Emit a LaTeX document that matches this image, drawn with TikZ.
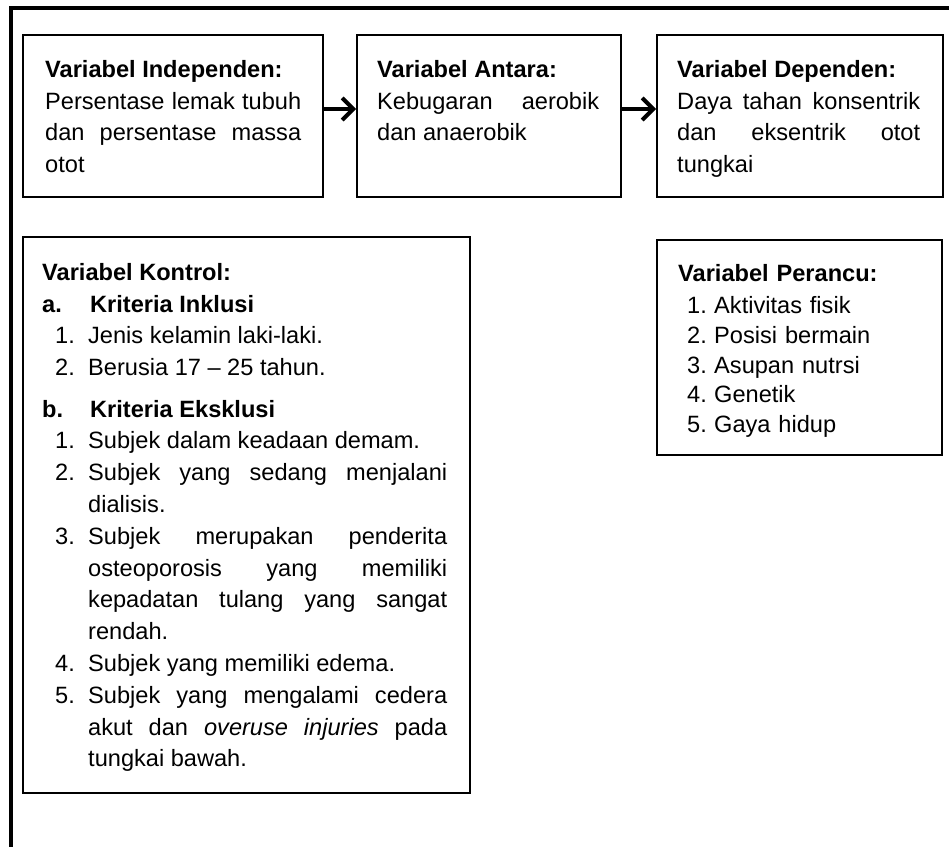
\documentclass[tikz,border=0pt]{standalone}
\usepackage{fontspec}
\setmainfont{Liberation Sans}
\usetikzlibrary{arrows.meta}
\tikzset{
  varbox/.style={
    draw,
    line width=2pt,
    anchor=north west,
    inner sep=0pt
  },
  vartext/.style={
    anchor=north west,
    inner sep=0pt,
    align=justify,
    font=\fontsize{23.6pt}{31.8pt}\selectfont,
    execute at begin node={\hyphenpenalty=10000 \exhyphenpenalty=10000 }
  },
  flow/.style={
    line width=3.5pt,
    -{Straight Barb[length=11pt,width=22pt,line width=4pt]}
  },
  frameline/.style={line width=4pt}
}
\newcommand\kitem[2]{\par\noindent\hangindent=46pt\hangafter=1\makebox[46pt][l]{\hspace{13pt}#1.}#2\par}
\newcommand\pitem[2]{\par\noindent\makebox[36pt][l]{\hspace{9pt}#1.}#2\par}

\begin{document}
\begin{tikzpicture}[x=1pt,y=-1pt]
  \useasboundingbox (0,0) rectangle (949,846);
  \draw[frameline] (11,850) -- (11,8) -- (952,8);

  \node[varbox, minimum width=300pt, minimum height=162pt] (indep) at (22,34) {};
  \node[varbox, minimum width=264pt, minimum height=162pt] (antara) at (356,34) {};
  \node[varbox, minimum width=286pt, minimum height=162pt] (depen) at (656,34) {};
  \node[varbox, minimum width=447pt, minimum height=556pt] (kontrol) at (22,236) {};
  \node[varbox, minimum width=285pt, minimum height=215pt] (perancu) at (656,239) {};

  \node[vartext, text width=256pt] (indeptext) at (45,60) {\textbf{Variabel Independen:}\par
    Persentase lemak tubuh\linebreak dan persentase massa\linebreak otot};
  \node[vartext, text width=222pt] (antaratext) at (377,60) {\textbf{Variabel Antara:}\par
    Kebugaran aerobik\linebreak dan anaerobik};
  \node[vartext, text width=243pt] (depentext) at (677,60) {\textbf{Variabel Dependen:}\par
    Daya tahan konsentrik\linebreak dan eksentrik otot\linebreak tungkai};

  \node[vartext, text width=405pt] (kontroltext) at (42,263) {\textbf{Variabel Kontrol:}\par
    \noindent\textbf{\makebox[48pt][l]{a.}Kriteria Inklusi}
    \kitem{1}{Jenis kelamin laki-laki.}
    \kitem{2}{Berusia 17 – 25 tahun.}
    \vspace{9.5pt}
    \noindent\textbf{\makebox[48pt][l]{b.}Kriteria Eksklusi}
    \kitem{1}{Subjek dalam keadaan demam.}
    \kitem{2}{Subjek yang sedang menjalani\linebreak dialisis.}
    \kitem{3}{Subjek merupakan penderita\linebreak osteoporosis yang memiliki\linebreak kepadatan tulang yang sangat\linebreak rendah.}
    \kitem{4}{Subjek yang memiliki edema.}
    \kitem{5}{Subjek yang mengalami cedera\linebreak akut dan \textit{overuse injuries} pada\linebreak tungkai bawah.}};

  \node[vartext, text width=250pt, align=left, font=\fontsize{23.6pt}{29.6pt}\selectfont] (peranctext) at (678,264) {\textbf{Variabel Perancu:}\par
    \vspace{3pt}
    \pitem{1}{Aktivitas fisik}
    \pitem{2}{Posisi bermain}
    \pitem{3}{Asupan nutrsi}
    \pitem{4}{Genetik}
    \pitem{5}{Gaya hidup}};

  \draw[flow] ([yshift=7pt]indep.east) -- ([yshift=7pt]antara.west);
  \draw[flow] ([yshift=7pt]antara.east) -- ([yshift=7pt]depen.west);
\end{tikzpicture}
\end{document}
